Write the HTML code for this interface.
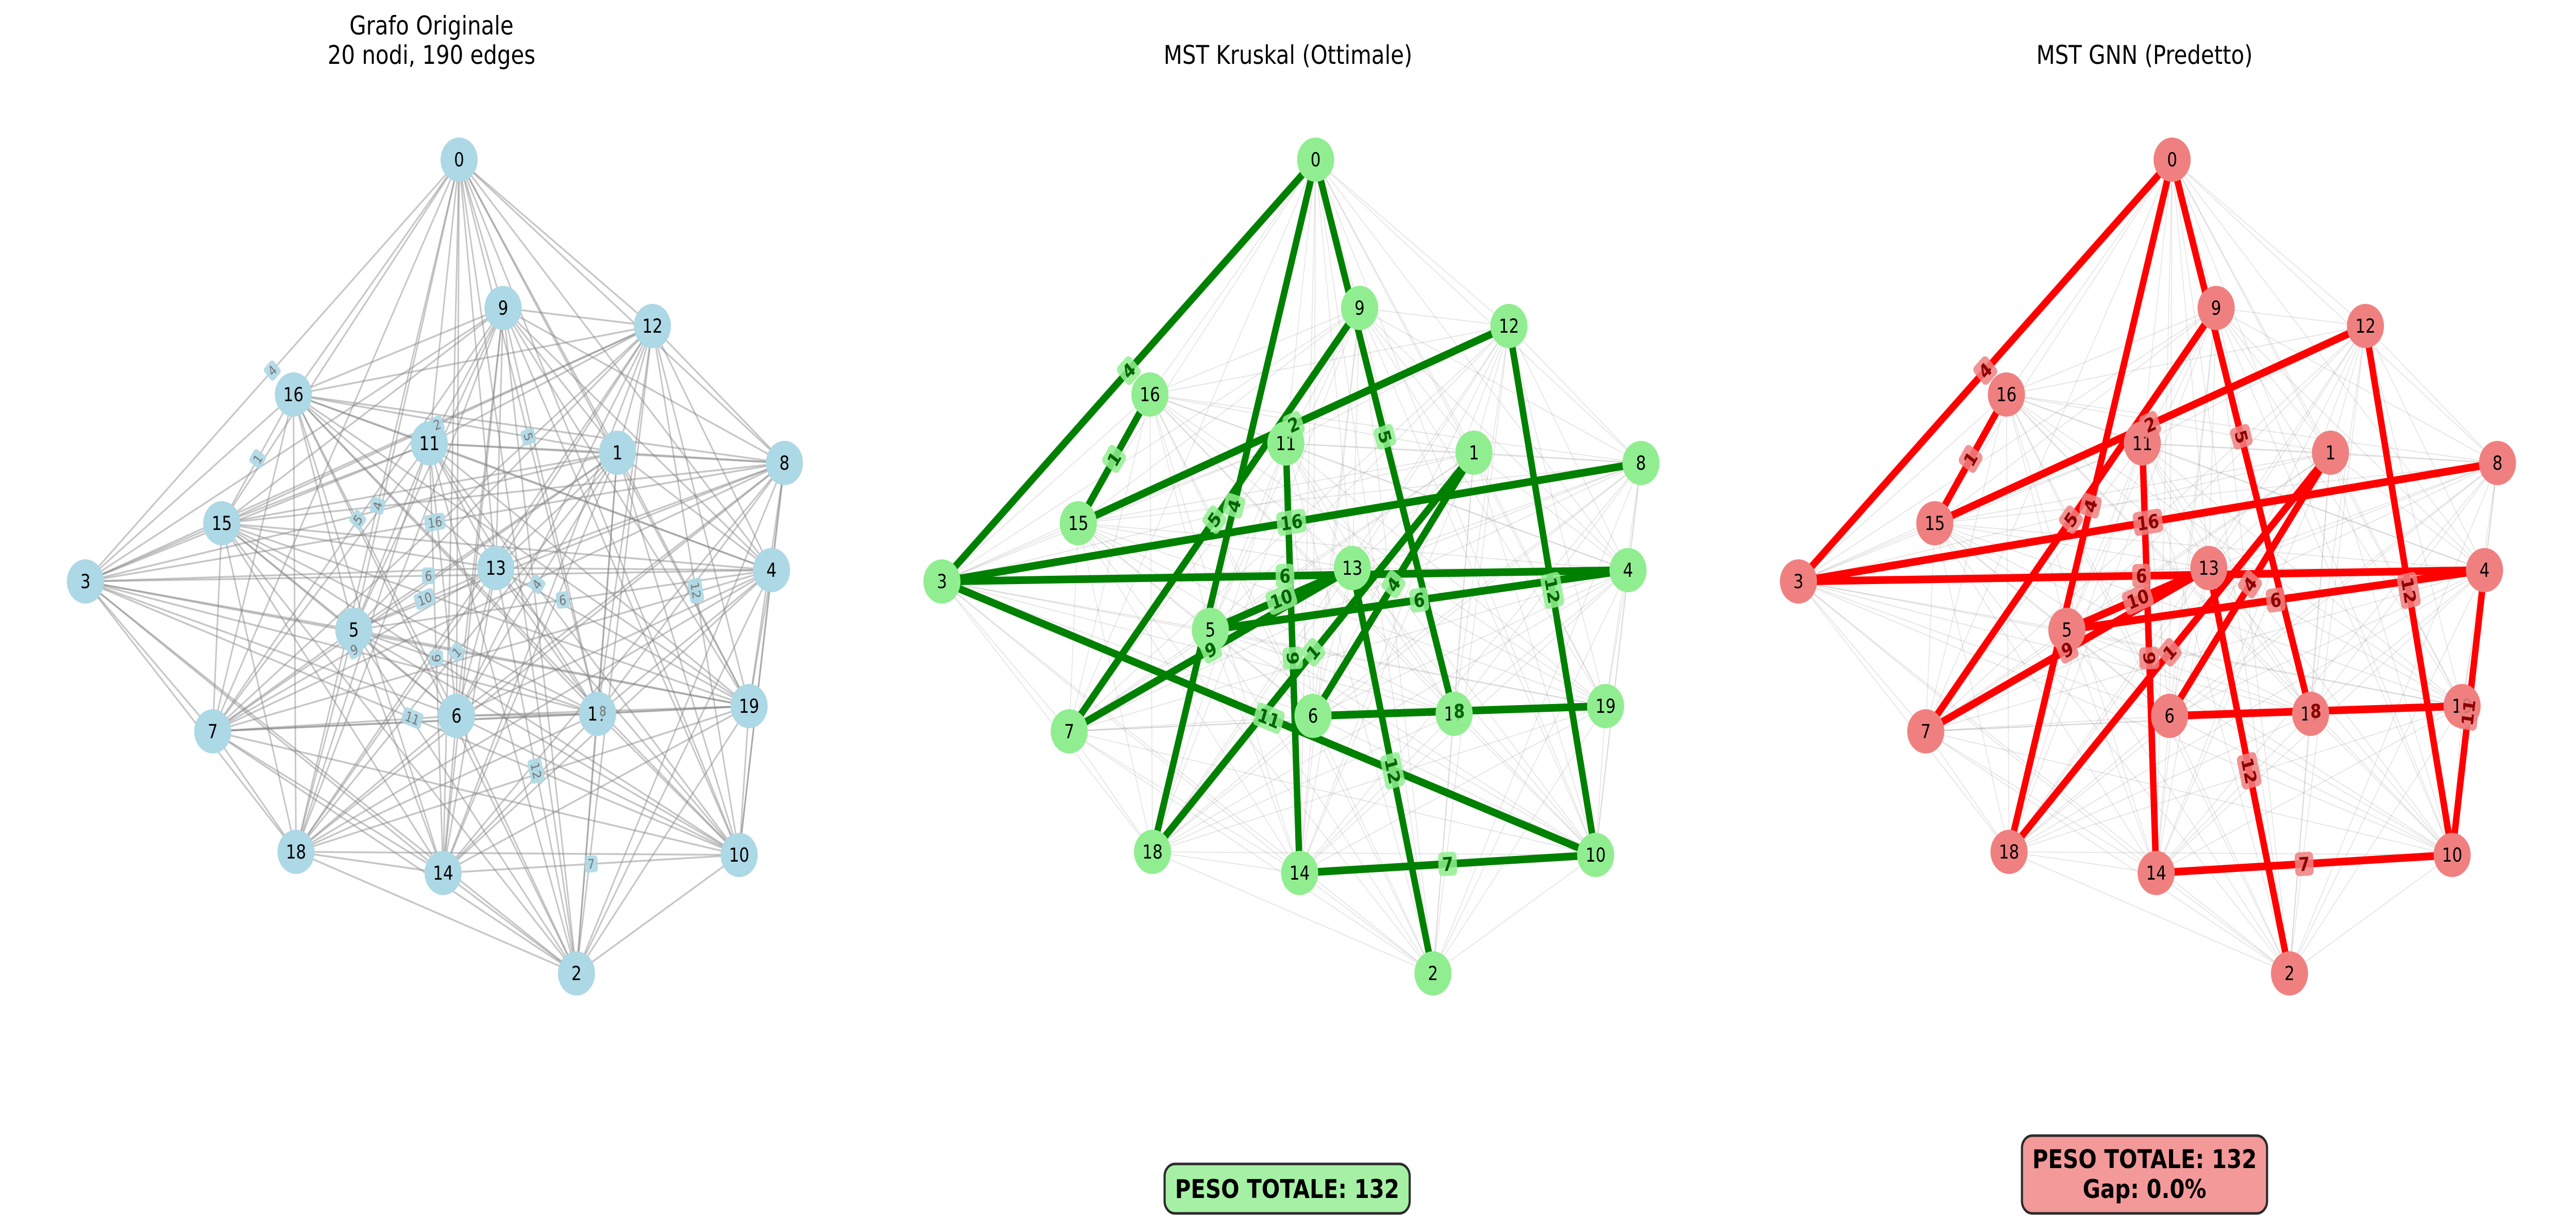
<!DOCTYPE html>
<html><head><meta charset="utf-8">
<style>
html,body{margin:0;padding:0;background:#fff;overflow:hidden;width:100%;height:100%;}
svg{display:block;width:100vw;height:100vh;font-family:"DejaVu Sans","Liberation Sans",sans-serif;}
</style></head>
<body>
<svg id="fig" viewBox="0 0 5970 2363" preserveAspectRatio="none" xmlns="http://www.w3.org/2000/svg">
  <text x="1000" y="67" font-size="50" text-anchor="middle">Grafo Originale</text>
  <text x="1000" y="124" font-size="50" text-anchor="middle">20 nodi, 190 edges</text>
  <text x="2985" y="124" font-size="50" text-anchor="middle">MST Kruskal (Ottimale)</text>
  <text x="4970" y="124" font-size="50" text-anchor="middle">MST GNN (Predetto)</text>
  <g id="p1"></g>
  <g id="p2"></g>
  <g id="p3"></g>
  <g>
    <rect x="2699" y="2260" width="568" height="96" rx="24" fill="#a6f0a6" stroke="#2b2b2b" stroke-width="5"/>
    <text x="2983" y="2326" font-size="50" font-weight="bold" text-anchor="middle">PESO TOTALE: 132</text>
  </g>
  <g>
    <rect x="4686" y="2205" width="568" height="151" rx="24" fill="#f39999" stroke="#2b2b2b" stroke-width="5"/>
    <text x="4970" y="2268" font-size="50" font-weight="bold" text-anchor="middle">PESO TOTALE: 132</text>
    <text x="4970" y="2326" font-size="50" font-weight="bold" text-anchor="middle">Gap: 0.0%</text>
  </g>
</svg>
<script>
const nodeIds = [0,1,2,3,4,5,6,7,8,9,10,11,12,13,14,15,16,17,18,19];
const nodeX = [1064,1431,1336,198,1788,820,1058,493,1818,1166,1713,995,1512,1149,1027,514,680,1385,686,1736];
const nodeY = [310,879,1890,1129,1107,1223,1390,1420,899,598,1660,861,633,1103,1695,1016,766,1386,1654,1371];
const kruskalFrom = [0,16,0,9,12,0,3,3,11,5,5,1,1,3,12,13,6,14,7];
const kruskalTo   = [3,15,18,7,15,17,8,4,14,13,4,6,18,10,10,2,19,10,13];
const kruskalW    = [4,1,4,5,2,5,16,6,9,10,6,4,1,11,12,12,8,7,9];
const gnnFrom = [0,16,0,9,12,0,3,3,11,5,5,1,1,4,12,13,6,14,7];
const gnnTo   = [3,15,18,7,15,17,8,4,14,13,4,6,18,10,10,2,19,10,13];
const gnnW    = [4,1,4,5,2,5,16,6,9,10,6,4,1,11,12,12,8,7,9];

const NS = "http://www.w3.org/2000/svg";
const panelOffset = 1985;
function px(i, p){ return nodeX[i] + p*panelOffset; }
function py(i){ return nodeY[i]; }
function mk(tag, attrs, parent){
  const e = document.createElementNS(NS, tag);
  for (const k in attrs) e.setAttribute(k, attrs[k]);
  parent.appendChild(e); return e;
}
function drawPanel(p, g, style, from, to, w){
  const bg = mk('g', {}, g);
  
  
  for (let a=0;a<nodeIds.length;a++) for (let b=a+1;b<nodeIds.length;b++){
    const l = mk('line', {x1:px(a,p),y1:py(a),x2:px(b,p),y2:py(b),stroke:'#808080','stroke-width':style.bgW,'stroke-opacity':style.bgA}, bg);
    
    
  }
  if (style.hl){
    for (let k=0;k<from.length;k++){
      const a=from[k], b=to[k];
      const l = mk('line', {x1:px(a,p),y1:py(a),x2:px(b,p),y2:py(b),stroke:style.hl,'stroke-width':15}, g);
      
      
    }
  }
  for (let i=0;i<nodeIds.length;i++){
    const c = mk('circle', {cx:px(i,p),cy:py(i),r:43,fill:style.node}, g);
    
    
    const t = mk('text', {x:px(i,p),y:py(i)+13,'font-size':37,'text-anchor':'middle',fill:'#000'}, g);
    t.textContent = nodeIds[i];
    
    
  }
  for (let k=0;k<from.length;k++){
    const a=from[k], b=to[k];
    const mx=(px(a,p)+px(b,p))/2, my=(py(a)+py(b))/2;
    let ang = Math.atan2(py(b)-py(a), px(b,p)-px(a,p))*180/Math.PI;
    if (ang>90) ang-=180; if (ang<-90) ang+=180;
    const lg = mk('g', {transform:'translate('+mx+','+my+') rotate('+ang+')'}, g);
    
    
    const s = String(w[k]);
    const fs = style.lblFs;
    const bw = s.length*fs*0.66+fs*0.5, bh = fs*1.25;
    mk('rect', {x:-bw/2,y:-bh/2,width:bw,height:bh,rx:fs*0.25,fill:style.lblBg,'fill-opacity':style.lblA}, lg);
    const t = mk('text', {x:0,y:fs*0.36,'font-size':fs,'text-anchor':'middle','font-weight':style.lblWt,fill:style.lblFg}, lg);
    t.textContent = s;
  }
}
drawPanel(0, document.getElementById('p1'), {bgW:3.5,bgA:0.45,hl:null,node:'#add8e6',lblFs:26,lblBg:'#add8e6',lblA:0.9,lblFg:'#777',lblWt:'normal'}, kruskalFrom, kruskalTo, kruskalW);
drawPanel(1, document.getElementById('p2'), {bgW:2,bgA:0.2,hl:'#008000',node:'#90ee90',lblFs:37,lblBg:'#90ee90',lblA:0.85,lblFg:'#006400',lblWt:'bold'}, kruskalFrom, kruskalTo, kruskalW);
drawPanel(2, document.getElementById('p3'), {bgW:2,bgA:0.2,hl:'#ff0000',node:'#f08080',lblFs:37,lblBg:'#f08080',lblA:0.85,lblFg:'#8b0000',lblWt:'bold'}, gnnFrom, gnnTo, gnnW);
</script>
</body></html>
